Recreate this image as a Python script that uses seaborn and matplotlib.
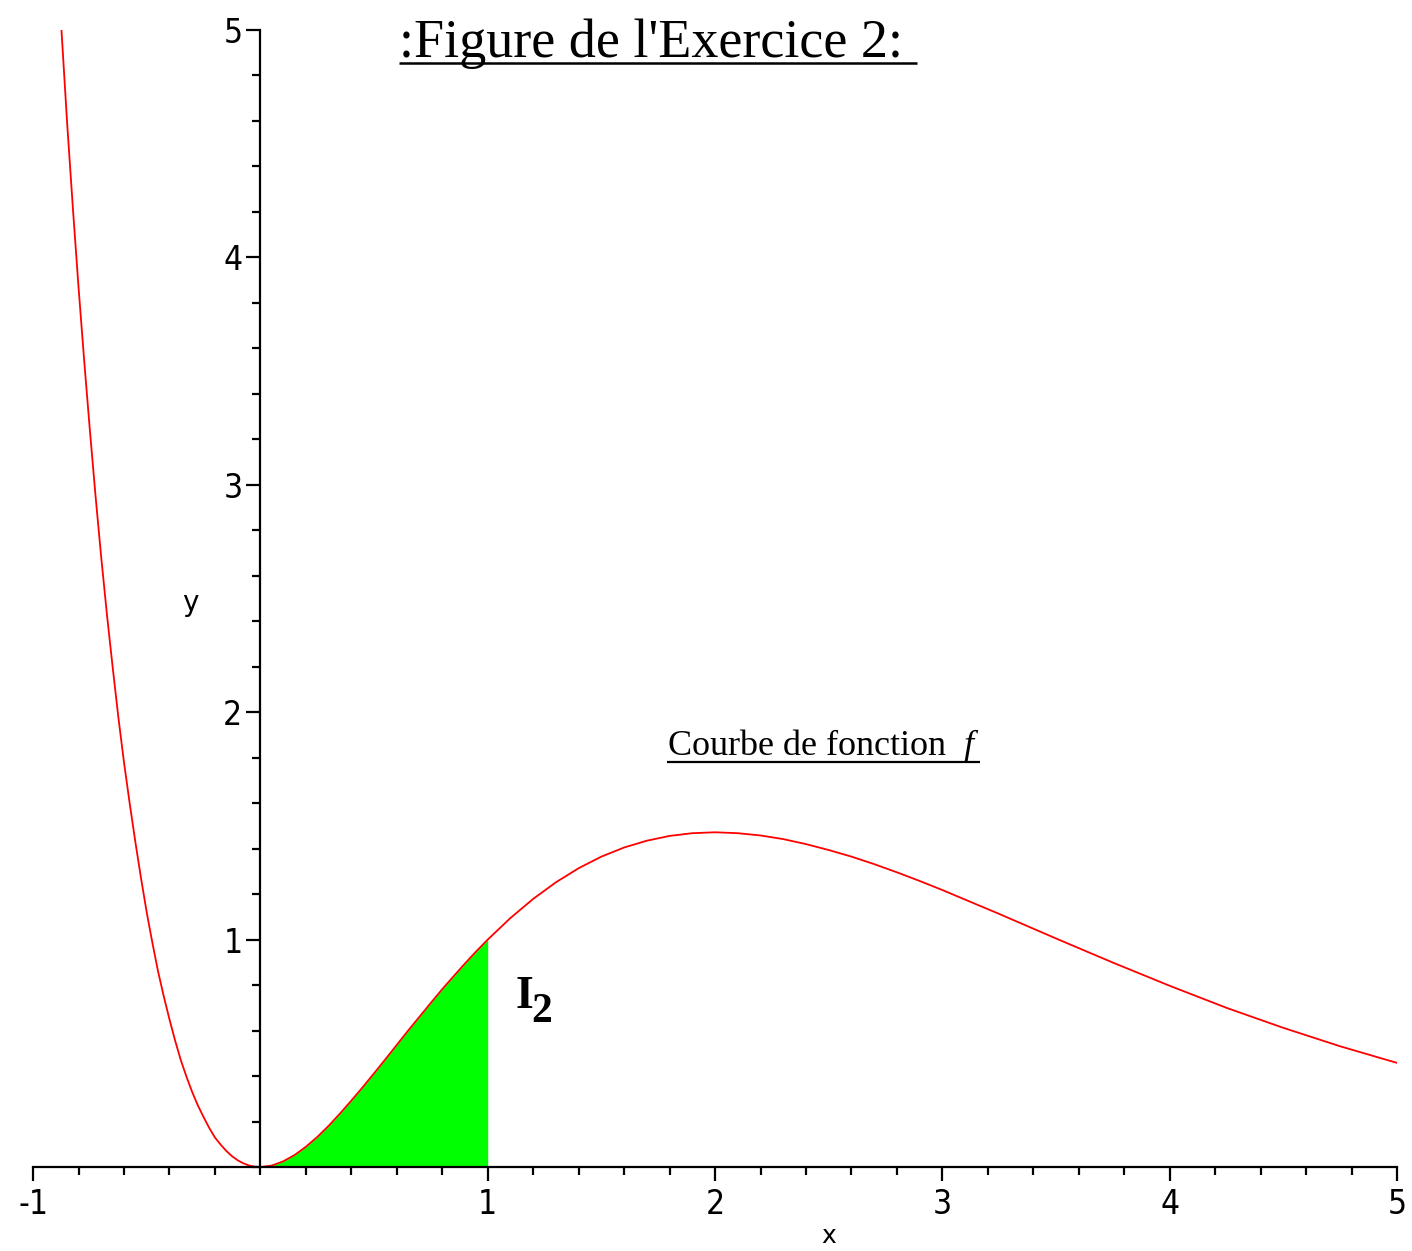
import matplotlib
matplotlib.use('Agg')
import matplotlib.pyplot as plt
from matplotlib.ticker import MultipleLocator, FixedLocator
import seaborn as sns
import pandas as pd

# Values
x_vals = [-0.875, -0.85, -0.825, -0.8, -0.775, -0.75, -0.725, -0.7, -0.675, -0.65,
          -0.625, -0.6, -0.575, -0.55, -0.525, -0.5, -0.475, -0.45, -0.425, -0.4,
          -0.375, -0.35, -0.325, -0.3, -0.275, -0.25, -0.225, -0.2, -0.175, -0.15,
          -0.125, -0.1, -0.075, -0.05, -0.025, 0.0,
          0.05, 0.1, 0.15, 0.2, 0.25, 0.3, 0.35, 0.4, 0.45, 0.5,
          0.55, 0.6, 0.65, 0.7, 0.75, 0.8, 0.85, 0.9, 0.95, 1.0,
          1.1, 1.2, 1.3, 1.4, 1.5, 1.6, 1.7, 1.8, 1.9, 2.0,
          2.1, 2.2, 2.3, 2.4, 2.5, 2.6, 2.7, 2.8, 2.9, 3.0,
          3.25, 3.5, 3.75, 4.0, 4.25, 4.5, 4.75, 5.0]
y_vals = [5.0, 4.59, 4.22, 3.87, 3.545, 3.24, 2.95, 2.68, 2.43, 2.20,
          1.98, 1.78, 1.60, 1.43, 1.27, 1.12, 0.986, 0.86, 0.751, 0.65,
          0.556, 0.47, 0.397, 0.33, 0.271, 0.22, 0.172, 0.13, 0.099, 0.071,
          0.048, 0.03, 0.0165, 0.007, 0.0017, 0.0,
          0.0065, 0.025, 0.0526, 0.089, 0.132, 0.181, 0.235, 0.292, 0.351, 0.412,
          0.474, 0.537, 0.600, 0.661, 0.722, 0.782, 0.839, 0.895, 0.949, 1.0,
          1.095, 1.179, 1.252, 1.314, 1.365, 1.405, 1.435, 1.456, 1.468, 1.472,
          1.468, 1.458, 1.442, 1.420, 1.394, 1.365, 1.332, 1.296, 1.258, 1.218,
          1.113, 1.005, 0.899, 0.797, 0.700, 0.612, 0.531, 0.458]

fill_from = 0.0
fill_to = 1.0

x_major = [-1, 1, 2, 3, 4, 5]
y_major = [1, 2, 3, 4, 5]

title_text = ":Figure de l'Exercice 2: "
curve_text = r"Courbe de fonction  $\mathit{f}$"
area_main = "I"
area_sub = "2"

df = pd.DataFrame({'x': x_vals, 'y': y_vals})

sns.set_style('white')
plt.rcParams.update({
    'mathtext.fontset': 'custom',
    'mathtext.rm': 'Liberation Serif',
    'mathtext.it': 'Liberation Serif:italic',
    'mathtext.bf': 'Liberation Serif:bold',
    'axes.unicode_minus': False,
    'text.color': 'black',
    'axes.labelcolor': 'black',
    'xtick.color': 'black',
    'ytick.color': 'black',
})

fig = plt.figure(figsize=(14.12, 12.51), dpi=100)
ax = fig.add_axes([0.0234, 0.0671, 0.966, 0.909])

sns.lineplot(data=df, x='x', y='y', color='red', linewidth=1.3,
             estimator=None, sort=False, ax=ax)

seg = df[(df['x'] >= fill_from) & (df['x'] <= fill_to)]
ax.fill_between(seg['x'], 0, seg['y'], color='#00ff00', linewidth=0, zorder=1)

ax.set_xlim(-1, 5)
ax.set_ylim(0, 5)

# axes crossing at the origin
for side in ['top', 'right']:
    ax.spines[side].set_visible(False)
ax.spines['left'].set_position(('data', 0))
ax.spines['left'].set_linewidth(1.6)
ax.spines['bottom'].set_linewidth(1.6)
ax.spines['left'].set_color('black')
ax.spines['bottom'].set_color('black')
ax.spines['left'].set_zorder(3)

ax.xaxis.set_major_locator(FixedLocator(x_major))
ax.yaxis.set_major_locator(FixedLocator(y_major))
ax.xaxis.set_minor_locator(MultipleLocator(0.2))
ax.yaxis.set_minor_locator(MultipleLocator(0.2))
ax.tick_params(which='major', direction='out', length=10, width=1.6,
               labelsize=24, color='black', pad=5)
ax.tick_params(which='minor', direction='out', length=6, width=1.6, color='black')
ax.tick_params(axis='x', bottom=True, which='both')
ax.tick_params(axis='y', left=True, which='both', pad=3)
for lab in ax.get_xticklabels() + ax.get_yticklabels():
    lab.set_fontfamily('DejaVu Sans')
    lab.set_fontstretch('condensed')

ax.set_xlabel('x', fontsize=18, fontfamily='DejaVu Sans')
ax.set_ylabel('y', fontsize=20, fontfamily='DejaVu Sans', rotation=0)
ax.xaxis.set_label_coords(0.583, -0.0605)
ax.xaxis.label.set_va('center')
ax.yaxis.set_label_coords(0.115, 0.496)
ax.yaxis.label.set_va('center')
ax.yaxis.label.set_ha('center')

t1 = ax.text(0.61, 4.881, title_text, fontsize=39, fontfamily='Liberation Serif',
             ha='left', va='baseline')
t2 = ax.text(1.79, 1.812, curve_text, fontsize=26, fontfamily='Liberation Serif',
             ha='left', va='baseline')
ax.text(1.122, 0.70, area_main, fontsize=33, fontfamily='Liberation Serif',
        fontweight='bold', ha='left', va='baseline')
ax.text(1.19, 0.64, area_sub, fontsize=30, fontfamily='Liberation Serif',
        fontweight='bold', ha='left', va='baseline')


def underline(txt, drop_px, lw):
    fig.canvas.draw()
    bb = txt.get_window_extent()
    inv = ax.transData.inverted()
    x0, _ = inv.transform((bb.x0, 0))
    x1, _ = inv.transform((bb.x1, 0))
    _, yb = inv.transform(ax.transData.transform((0, txt.get_position()[1])) - (0, drop_px))
    ax.plot([x0, x1], [yb, yb], color='black', linewidth=lw, solid_capstyle='butt')


underline(t1, 6, 1.8)
underline(t2, 7, 1.6)

fig.savefig('out.png', dpi=100)
